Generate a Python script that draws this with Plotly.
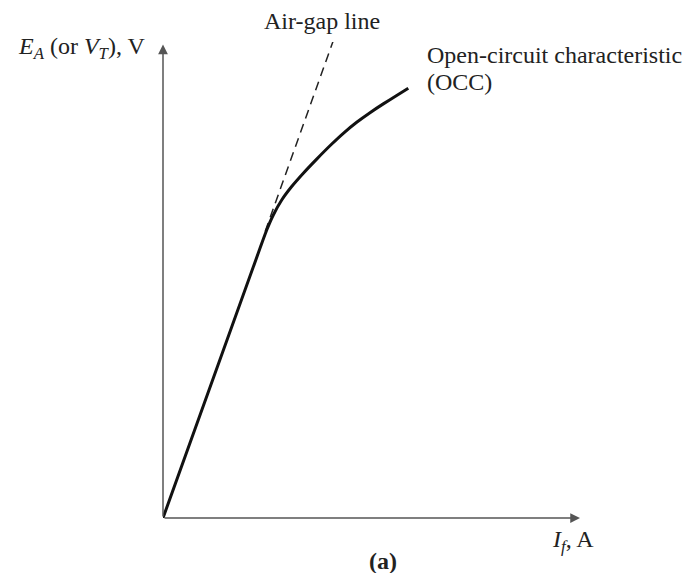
import plotly.graph_objects as go

# OCC curve (field current vs. generated voltage), arbitrary units
occ_if = [0.0, 2.326, 2.487, 2.645, 2.847, 3.086, 3.365, 3.686, 4.041, 4.324,
          4.645, 4.964, 5.283, 5.604, 5.882]
occ_ea = [0.0, 5.666, 6.050, 6.366, 6.681, 6.964, 7.244, 7.540, 7.851, 8.082,
          8.313, 8.515, 8.700, 8.876, 9.027]

# Air-gap line (dashed, continuation of linear part)
air_if = [2.45, 4.08]
air_ea = [6.02, 10.02]

FONT = "Liberation Serif"
FS = 24
TXT = "#222"

fig = go.Figure()
fig.add_trace(go.Scatter(x=air_if, y=air_ea, mode="lines",
                         line=dict(color="#222", width=1.5, dash="9px,6px"),
                         hoverinfo="skip", showlegend=False))
fig.add_trace(go.Scatter(x=occ_if, y=occ_ea, mode="lines",
                         line=dict(color="#111", width=3, shape="spline", smoothing=0.6),
                         hoverinfo="skip", showlegend=False))

ann = []
# axes arrows
ann.append(dict(x=10.0, y=0, ax=0, ay=0, xref="x", yref="y", axref="x", ayref="y",
                showarrow=True, arrowhead=2, arrowsize=1.3, arrowwidth=1.5,
                arrowcolor="#555", text=""))
ann.append(dict(x=0, y=9.95, ax=0, ay=0, xref="x", yref="y", axref="x", ayref="y",
                showarrow=True, arrowhead=2, arrowsize=1.3, arrowwidth=1.5,
                arrowcolor="#555", text=""))


def label(x, y, text, xanchor="left"):
    ann.append(dict(x=x, y=y, xref="paper", yref="paper", xanchor=xanchor,
                    yanchor="middle", showarrow=False, text=text,
                    font=dict(family=FONT, size=FS, color=TXT)))


label(-0.3525, 0.987, "<i>E</i><sub><i>A</i></sub> (or <i>V</i><sub><i>T</i></sub>), V")
label(0.2367, 1.044, "Air-gap line")
label(0.628, 0.9727, "Open-circuit characteristic")
label(0.628, 0.916, "(OCC)")
label(0.928, -0.0483, "<i>I</i><sub><i>f</i></sub>, A")
label(0.5285, -0.0903, "<b>(a)</b>", xanchor="center")

fig.update_layout(
    width=688, height=573,
    margin=dict(l=163, r=108, t=42, b=55),
    paper_bgcolor="white", plot_bgcolor="white",
    xaxis=dict(range=[0, 10], visible=False, fixedrange=True),
    yaxis=dict(range=[0, 10], visible=False, fixedrange=True),
    annotations=ann,
    showlegend=False,
)
fig.write_html("out.html", config={"displayModeBar": False})
